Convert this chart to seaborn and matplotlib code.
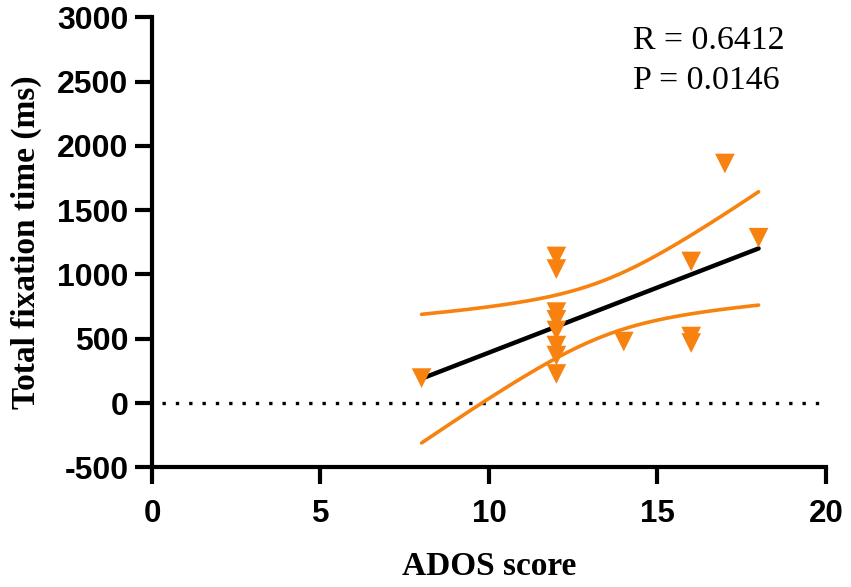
import numpy as np
import pandas as pd
import matplotlib
matplotlib.use("Agg")
import matplotlib.pyplot as plt
import seaborn as sns

# ---- data ----
ados_score = [8, 12, 12, 12, 12, 12, 12, 12, 12, 14, 16, 16, 16, 17, 18]
fixation_ms = [194, 1140, 1042, 707, 647, 564, 447, 369, 226, 478, 1101, 517, 467, 1863, 1286]
x_ticks = [0, 5, 10, 15, 20]
y_ticks = [-500, 0, 500, 1000, 1500, 2000, 2500, 3000]
stats_text = ["R = 0.6412", "P = 0.0146"]
t_crit = 2.160  # 95% two-sided, df = n - 2 = 13

sns.set_theme(style="white")
plt.rcParams["axes.unicode_minus"] = False

df = pd.DataFrame({"ADOS": ados_score, "TFT": fixation_ms})

# linear regression + 95% confidence band of the mean
x = np.asarray(ados_score, float)
y = np.asarray(fixation_ms, float)
n = len(x)
slope, intercept = np.polyfit(x, y, 1)
resid = y - (slope * x + intercept)
s = np.sqrt(np.sum(resid ** 2) / (n - 2))
xg = np.linspace(x.min(), x.max(), 200)
yg = slope * xg + intercept
se = s * np.sqrt(1 / n + (xg - x.mean()) ** 2 / np.sum((x - x.mean()) ** 2))
fit = pd.DataFrame({"x": xg, "fit": yg, "lo": yg - t_crit * se, "hi": yg + t_crit * se})

fig = plt.figure(figsize=(8.51, 5.87), dpi=100)
ax = fig.add_axes([0.1786, 0.2039, 0.9706 - 0.1786, 0.9705 - 0.2039])

orange = "#F7820F"
ax.plot([0, 20], [0, 0], color="black", lw=2.4, linestyle=(1.0, (1, 3.0)), zorder=1)
sns.lineplot(data=fit, x="x", y="lo", ax=ax, color=orange, lw=2.6, zorder=2)
sns.lineplot(data=fit, x="x", y="hi", ax=ax, color=orange, lw=2.6, zorder=2)
sns.lineplot(data=fit, x="x", y="fit", ax=ax, color="black", lw=3.2, zorder=3)
sns.scatterplot(data=df, x="ADOS", y="TFT", ax=ax, marker="v", s=200,
                color=orange, edgecolor="none", linewidth=0, zorder=4)

ax.set_xlim(0, 20)
ax.set_ylim(-500, 3000)
ax.set_xticks(x_ticks)
ax.set_yticks(y_ticks)
ax.set_xticklabels([str(v) for v in x_ticks])
ax.set_yticklabels([str(v) for v in y_ticks])

for side in ["top", "right"]:
    ax.spines[side].set_visible(False)
for side in ["left", "bottom"]:
    ax.spines[side].set_color("black")
    ax.spines[side].set_linewidth(3)

ax.tick_params(axis="both", which="major", direction="out", length=12, width=3,
               color="black", left=True, bottom=True)
ax.tick_params(axis="y", pad=5)
ax.tick_params(axis="x", pad=11)
for lab in ax.get_yticklabels():
    lab.set_fontfamily("Liberation Sans")
    lab.set_fontweight("bold")
    lab.set_fontsize(23)
    lab.set_color("black")
for lab in ax.get_xticklabels():
    lab.set_fontfamily("Liberation Sans")
    lab.set_fontweight("bold")
    lab.set_fontsize(22.5)
    lab.set_color("black")

ax.set_xlabel("ADOS score", fontfamily="Liberation Serif", fontweight="bold",
              fontsize=24, color="black", labelpad=16)
ax.set_ylabel("Total fixation time (ms)", fontfamily="Liberation Serif",
              fontweight="bold", fontsize=24, color="black", labelpad=11)

ax.text(0.7137, 0.930, stats_text[0], transform=ax.transAxes, fontfamily="Liberation Serif",
        fontsize=24.4, color="black", va="baseline", ha="left")
ax.text(0.7137, 0.840, stats_text[1], transform=ax.transAxes, fontfamily="Liberation Serif",
        fontsize=24.4, color="black", va="baseline", ha="left")

ax.grid(False)
fig.savefig("out.png", dpi=100)
